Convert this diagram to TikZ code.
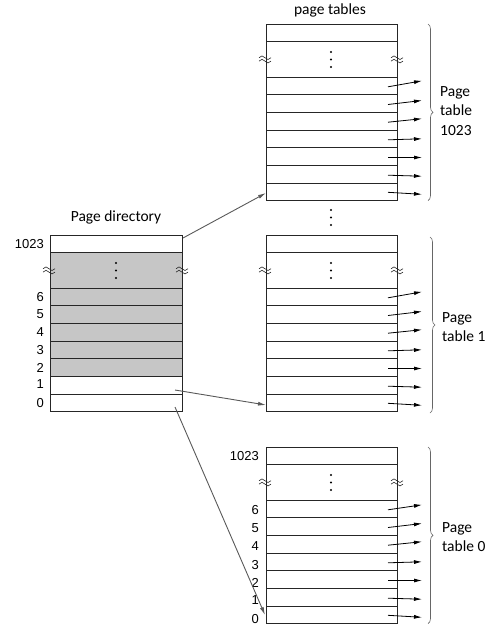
\documentclass[tikz,border=0pt]{standalone}
\usepackage{fontspec}
\setmainfont{Carlito}
\newfontfamily\numfont{Liberation Sans}
\usetikzlibrary{arrows.meta,decorations.pathreplacing}

\begin{document}
\begin{tikzpicture}[x=1pt, y=-1pt,
    tab/.style={draw=black!85, line width=0.9pt},
    entry/.style={black, line width=0.8pt, -{Latex[length=8pt,width=4pt]}},
    ptr/.style={black!65, line width=0.9pt, -{Latex[length=8pt,width=4pt]}},
    brc/.style={black!60, line width=0.6pt, decorate, decoration={brace, amplitude=5pt}},
    lbl/.style={font=\fontsize{15.5}{19.5}\selectfont, inner sep=0pt},
    num/.style={font=\numfont\fontsize{13}{14}\selectfont, inner sep=0pt, anchor=east},
    cut/.pic={\draw[black!85, line width=0.6pt]
        (-6,-1.6) sin (-3,-3.4) cos (0,-1.6) sin (3,0.2) cos (6,-1.6)
        (-6,1.8) sin (-3,0) cos (0,1.8) sin (3,3.6) cos (6,1.8);}]
    \useasboundingbox (0,0) rectangle (500,630);

    % Titles
    \node[lbl] (ptitle) at (330,10) {page tables};
    \node[lbl] (dtitle) at (116,217) {Page directory};

    % Page directory
    \filldraw[tab, fill=gray!45] (50,252.67) rectangle (182,376.33);
    \draw[tab] (50,235) rectangle (182,411.67);
    \draw[tab] (50,252.67) -- (182,252.67) (50,288) -- (182,288)
        (50,305.67) -- (182,305.67) (50,323.33) -- (182,323.33)
        (50,341) -- (182,341) (50,358.67) -- (182,358.67)
        (50,376.33) -- (182,376.33) (50,394) -- (182,394);
    \fill (116,263) circle (1.2) (116,270.5) circle (1.2) (116,278) circle (1.2);
    \pic at (49,270.3) {cut};
    \pic at (182,270.3) {cut};
    \node[num] (d1023n) at (44,243.8) {1023};
    \node[num] (d6n) at (44,296.8) {6};
    \node[num] (d5n) at (44,314.5) {5};
    \node[num] (d4n) at (44,332.2) {4};
    \node[num] (d3n) at (44,349.8) {3};
    \node[num] (d2n) at (44,367.5) {2};
    \node[num] (d1n) at (44,384.2) {1};
    \node[num] (d0n) at (44,402.8) {0};

    % Page table 1023
    \draw[tab] (266,24) rectangle (397,200.67);
    \draw[tab] (266,41.67) -- (397,41.67) (266,77) -- (397,77)
        (266,94.67) -- (397,94.67) (266,112.33) -- (397,112.33)
        (266,130) -- (397,130) (266,147.67) -- (397,147.67)
        (266,165.33) -- (397,165.33) (266,183) -- (397,183);
    \fill (331,52) circle (1.2) (331,59.5) circle (1.2) (331,67) circle (1.2);
    \pic at (265,59.3) {cut};
    \pic at (397,59.3) {cut};
    \draw[entry] (388,86.8) -- (422,80.8);
    \draw[entry] (388,104.5) -- (422,100.5);
    \draw[entry] (388,122.2) -- (422,118.7);
    \draw[entry] (388,139.8) -- (422,138.8);
    \draw[entry] (388,157.5) -- (422,157.5);
    \draw[entry] (388,175.2) -- (422,176.2);
    \draw[entry] (388,192.3) -- (422,194.3);
    \draw[brc] (428,24) -- (428,200.67);
    \node[lbl, anchor=west, align=left] (l1023) at (440,111) {Page\\table\\1023};

    % Dots between tables
    \fill (331,210) circle (1.2) (331,217.5) circle (1.2) (331,225) circle (1.2);

    % Page table 1
    \draw[tab] (266,235) rectangle (397,411.67);
    \draw[tab] (266,252.67) -- (397,252.67) (266,288) -- (397,288)
        (266,305.67) -- (397,305.67) (266,323.33) -- (397,323.33)
        (266,341) -- (397,341) (266,358.67) -- (397,358.67)
        (266,376.33) -- (397,376.33) (266,394) -- (397,394);
    \fill (331,263) circle (1.2) (331,270.5) circle (1.2) (331,278) circle (1.2);
    \pic at (265,270.3) {cut};
    \pic at (397,270.3) {cut};
    \draw[entry] (388,297.8) -- (422,291.8);
    \draw[entry] (388,315.5) -- (422,311.5);
    \draw[entry] (388,333.2) -- (422,329.7);
    \draw[entry] (388,350.8) -- (422,349.8);
    \draw[entry] (388,368.5) -- (422,368.5);
    \draw[entry] (388,386.2) -- (422,387.2);
    \draw[entry] (388,403.3) -- (422,405.3);
    \draw[brc] (430,237) -- (430,413);
    \node[lbl, anchor=west, align=left] (l1) at (442,327) {Page\\table 1};

    % Page table 0
    \draw[tab] (266,447) rectangle (397,623.67);
    \draw[tab] (266,464.67) -- (397,464.67) (266,500) -- (397,500)
        (266,517.67) -- (397,517.67) (266,535.33) -- (397,535.33)
        (266,553) -- (397,553) (266,570.67) -- (397,570.67)
        (266,588.33) -- (397,588.33) (266,606) -- (397,606);
    \fill (331,475) circle (1.2) (331,482.5) circle (1.2) (331,490) circle (1.2);
    \pic at (265,482.3) {cut};
    \pic at (397,482.3) {cut};
    \draw[entry] (388,509.8) -- (422,504.8);
    \draw[entry] (388,527.5) -- (422,523.5);
    \draw[entry] (388,545.2) -- (422,541.7);
    \draw[entry] (388,562.8) -- (422,561.8);
    \draw[entry] (388,580.5) -- (422,580.5);
    \draw[entry] (388,598.2) -- (422,599.2);
    \draw[entry] (388,615.3) -- (422,617.3);
    \draw[brc] (428,447) -- (428,623.67);
    \node[lbl, anchor=west, align=left] (l0) at (442,537) {Page\\table 0};
    \node[num] (t1023n) at (259,456) {1023};
    \node[num] (t6n) at (259,510) {6};
    \node[num] (t5n) at (259,528) {5};
    \node[num] (t4n) at (259,546) {4};
    \node[num] (t3n) at (259,565) {3};
    \node[num] (t2n) at (259,583) {2};
    \node[num] (t1n) at (259,600) {1};
    \node[num] (t0n) at (259,619) {0};

    % Pointers from the page directory
    \coordinate (d1023) at (183,238);
    \coordinate (t1023) at (266,193);
    \coordinate (d1) at (175,390);
    \coordinate (t1) at (266,405);
    \coordinate (d0) at (175,407);
    \coordinate (t0) at (265,615);
    \draw[ptr] (d1023) -- (t1023);
    \draw[ptr] (d1) -- (t1);
    \draw[ptr] (d0) -- (t0);
\end{tikzpicture}
\end{document}
